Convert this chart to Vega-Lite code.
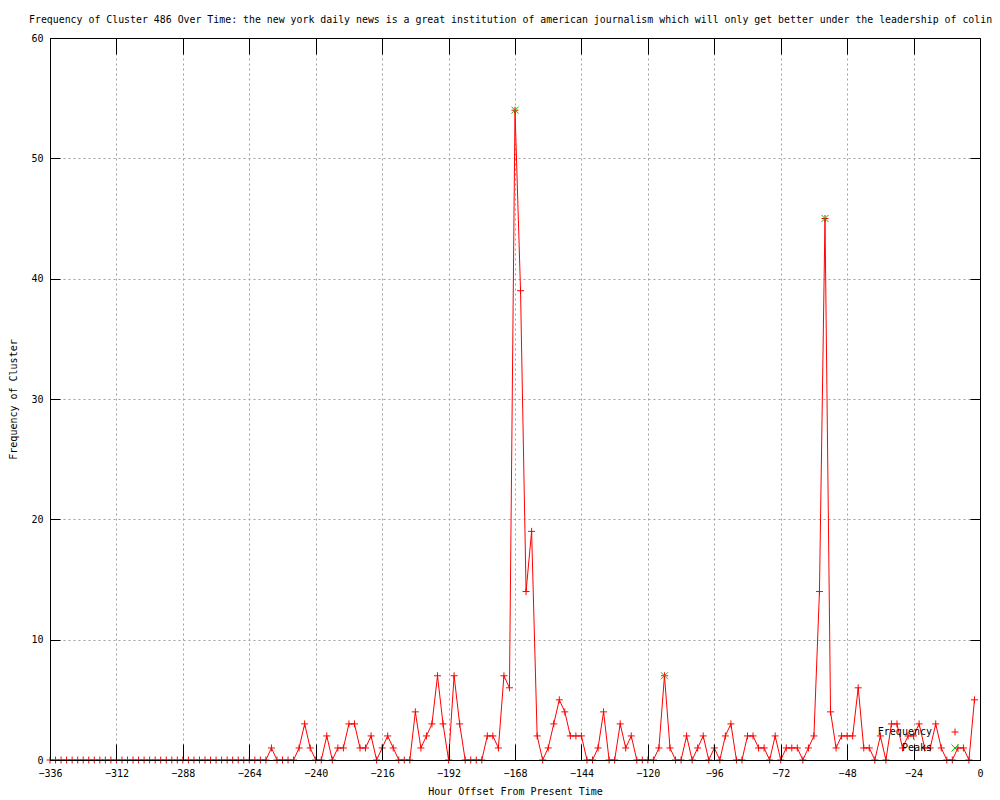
{
  "$schema": "https://vega.github.io/schema/vega-lite/v6.json",
  "width": 930,
  "height": 722,
  "autosize": {"type": "none"},
  "padding": {"left": 50, "top": 38, "right": 20, "bottom": 40},
  "background": "white",
  "config": {
    "view": {"stroke": "black", "strokeWidth": 1},
    "axis": {
      "labelFont": "DejaVu Sans Mono",
      "labelFontSize": 10,
      "labelColor": "black",
      "titleFont": "DejaVu Sans Mono",
      "titleFontSize": 10,
      "titleFontWeight": "normal",
      "titleColor": "black",
      "tickColor": "black",
      "tickWidth": 1,
      "domainColor": "black",
      "domainWidth": 1,
      "gridColor": "#a0a0a0",
      "gridDash": [2, 3],
      "gridWidth": 1,
      "gridOpacity": 1
    }
  },
  "title": {
    "text": "Frequency of Cluster 486 Over Time: the new york daily news is a great institution of american journalism which will only get better under the leadership of colin",
    "anchor": "start",
    "frame": "group",
    "dx": -21,
    "offset": 8,
    "font": "DejaVu Sans Mono",
    "fontSize": 9.9,
    "fontWeight": "normal",
    "color": "black"
  },
  "datasets": {
    "freq": [
      {"h": -336, "f": 0}, {"h": -334, "f": 0}, {"h": -332, "f": 0}, {"h": -330, "f": 0}, {"h": -328, "f": 0},
      {"h": -326, "f": 0}, {"h": -324, "f": 0}, {"h": -322, "f": 0}, {"h": -320, "f": 0}, {"h": -318, "f": 0},
      {"h": -316, "f": 0}, {"h": -314, "f": 0}, {"h": -312, "f": 0}, {"h": -310, "f": 0}, {"h": -308, "f": 0},
      {"h": -306, "f": 0}, {"h": -304, "f": 0}, {"h": -302, "f": 0}, {"h": -300, "f": 0}, {"h": -298, "f": 0},
      {"h": -296, "f": 0}, {"h": -294, "f": 0}, {"h": -292, "f": 0}, {"h": -290, "f": 0}, {"h": -288, "f": 0},
      {"h": -286, "f": 0}, {"h": -284, "f": 0}, {"h": -282, "f": 0}, {"h": -280, "f": 0}, {"h": -278, "f": 0},
      {"h": -276, "f": 0}, {"h": -274, "f": 0}, {"h": -272, "f": 0}, {"h": -270, "f": 0}, {"h": -268, "f": 0},
      {"h": -266, "f": 0}, {"h": -264, "f": 0}, {"h": -262, "f": 0}, {"h": -260, "f": 0}, {"h": -258, "f": 0},
      {"h": -256, "f": 1}, {"h": -254, "f": 0}, {"h": -252, "f": 0}, {"h": -250, "f": 0}, {"h": -248, "f": 0},
      {"h": -246, "f": 1}, {"h": -244, "f": 3}, {"h": -242, "f": 1}, {"h": -240, "f": 0}, {"h": -238, "f": 0},
      {"h": -236, "f": 2}, {"h": -234, "f": 0}, {"h": -232, "f": 1}, {"h": -230, "f": 1}, {"h": -228, "f": 3},
      {"h": -226, "f": 3}, {"h": -224, "f": 1}, {"h": -222, "f": 1}, {"h": -220, "f": 2}, {"h": -218, "f": 0},
      {"h": -216, "f": 1}, {"h": -214, "f": 2}, {"h": -212, "f": 1}, {"h": -210, "f": 0}, {"h": -208, "f": 0},
      {"h": -206, "f": 0}, {"h": -204, "f": 4}, {"h": -202, "f": 1}, {"h": -200, "f": 2}, {"h": -198, "f": 3},
      {"h": -196, "f": 7}, {"h": -194, "f": 3}, {"h": -192, "f": 0}, {"h": -190, "f": 7}, {"h": -188, "f": 3},
      {"h": -186, "f": 0}, {"h": -184, "f": 0}, {"h": -182, "f": 0}, {"h": -180, "f": 0}, {"h": -178, "f": 2},
      {"h": -176, "f": 2}, {"h": -174, "f": 1}, {"h": -172, "f": 7}, {"h": -170, "f": 6}, {"h": -168, "f": 54},
      {"h": -166, "f": 39}, {"h": -164, "f": 14}, {"h": -162, "f": 19}, {"h": -160, "f": 2}, {"h": -158, "f": 0},
      {"h": -156, "f": 1}, {"h": -154, "f": 3}, {"h": -152, "f": 5}, {"h": -150, "f": 4}, {"h": -148, "f": 2},
      {"h": -146, "f": 2}, {"h": -144, "f": 2}, {"h": -142, "f": 0}, {"h": -140, "f": 0}, {"h": -138, "f": 1},
      {"h": -136, "f": 4}, {"h": -134, "f": 0}, {"h": -132, "f": 0}, {"h": -130, "f": 3}, {"h": -128, "f": 1},
      {"h": -126, "f": 2}, {"h": -124, "f": 0}, {"h": -122, "f": 0}, {"h": -120, "f": 0}, {"h": -118, "f": 0},
      {"h": -116, "f": 1}, {"h": -114, "f": 7}, {"h": -112, "f": 1}, {"h": -110, "f": 0}, {"h": -108, "f": 0},
      {"h": -106, "f": 2}, {"h": -104, "f": 0}, {"h": -102, "f": 1}, {"h": -100, "f": 2}, {"h": -98, "f": 0},
      {"h": -96, "f": 1}, {"h": -94, "f": 0}, {"h": -92, "f": 2}, {"h": -90, "f": 3}, {"h": -88, "f": 0},
      {"h": -86, "f": 0}, {"h": -84, "f": 2}, {"h": -82, "f": 2}, {"h": -80, "f": 1}, {"h": -78, "f": 1},
      {"h": -76, "f": 0}, {"h": -74, "f": 2}, {"h": -72, "f": 0}, {"h": -70, "f": 1}, {"h": -68, "f": 1},
      {"h": -66, "f": 1}, {"h": -64, "f": 0}, {"h": -62, "f": 1}, {"h": -60, "f": 2}, {"h": -58, "f": 14},
      {"h": -56, "f": 45}, {"h": -54, "f": 4}, {"h": -52, "f": 1}, {"h": -50, "f": 2}, {"h": -48, "f": 2},
      {"h": -46, "f": 2}, {"h": -44, "f": 6}, {"h": -42, "f": 1}, {"h": -40, "f": 1}, {"h": -38, "f": 0},
      {"h": -36, "f": 2}, {"h": -34, "f": 0}, {"h": -32, "f": 3}, {"h": -30, "f": 3}, {"h": -28, "f": 1},
      {"h": -26, "f": 2}, {"h": -24, "f": 2}, {"h": -22, "f": 3}, {"h": -20, "f": 1}, {"h": -18, "f": 1},
      {"h": -16, "f": 3}, {"h": -14, "f": 1}, {"h": -12, "f": 0}, {"h": -10, "f": 0}, {"h": -8, "f": 1},
      {"h": -6, "f": 1}, {"h": -4, "f": 0}, {"h": -2, "f": 5}
    ],
    "peaks": [
      {"h": -168, "f": 54}, {"h": -114, "f": 7}, {"h": -56, "f": 45}
    ]
  },
  "layer": [
    {
      "data": {"name": "freq"},
      "mark": {"type": "line", "color": "#ff0000", "strokeWidth": 1},
      "encoding": {
        "x": {
          "field": "h", "type": "quantitative",
          "scale": {"domain": [-336, 0], "nice": false, "zero": false},
          "axis": {
            "orient": "bottom", "zindex": 1,
            "values": [-336, -312, -288, -264, -240, -216, -192, -168, -144, -120, -96, -72, -48, -24, 0],
            "grid": false, "domain": true, "ticks": true, "tickSize": -16,
            "labelPadding": 24, "labelFlush": false, "labelOverlap": false,
            "title": "Hour Offset From Present Time", "titlePadding": 8
          }
        },
        "y": {
          "field": "f", "type": "quantitative",
          "scale": {"domain": [0, 60], "nice": false, "zero": true},
          "axis": {
            "orient": "left", "zindex": 1,
            "values": [0, 10, 20, 30, 40, 50, 60],
            "grid": false, "domain": true, "ticks": true, "tickSize": -10,
            "labelPadding": 17, "labelFlush": false, "labelOverlap": false,
            "title": "Frequency of Cluster", "titlePadding": 12
          }
        }
      }
    },
    {
      "data": {"name": "freq"},
      "mark": {"type": "point", "filled": false, "strokeWidth": 1, "size": 49, "opacity": 1},
      "encoding": {
        "x": {
          "field": "h", "type": "quantitative",
          "axis": {
            "orient": "top", "zindex": 0,
            "values": [-312, -288, -264, -240, -216, -192, -168, -144, -120, -96, -72, -48, -24],
            "grid": true, "domain": true, "ticks": true, "tickSize": -16,
            "labels": false, "title": null
          }
        },
        "y": {
          "field": "f", "type": "quantitative",
          "axis": {
            "orient": "right", "zindex": 0,
            "values": [10, 20, 30, 40, 50],
            "grid": true, "domain": true, "ticks": true, "tickSize": -10,
            "labels": false, "title": null
          }
        },
        "color": {
          "datum": "Frequency", "type": "nominal",
          "scale": {"domain": ["Frequency", "Peaks"], "range": ["#ff0000", "#00c000"]},
          "legend": {
            "orient": "none", "legendX": 900, "legendY": 689,
            "title": null, "padding": 0, "rowPadding": 4,
            "labelFont": "DejaVu Sans Mono", "labelFontSize": 10, "labelColor": "black",
            "labelAlign": "right", "labelOffset": -28,
            "symbolSize": 49, "symbolStrokeWidth": 1,
            "encode": {
              "symbols": {
                "update": {
                  "shape": {"signal": "datum.label === 'Frequency' ? 'M-4.6,0L4.6,0M0,-1L0,1' : 'M-1,-1L1,1M-1,1L1,-1'"}
                }
              }
            }
          }
        },
        "shape": {
          "datum": "Frequency", "type": "nominal",
          "scale": {"domain": ["Frequency", "Peaks"], "range": ["M-1,0L1,0M0,-1L0,1", "M-1,-1L1,1M-1,1L1,-1"]}
        }
      }
    },
    {
      "data": {"name": "peaks"},
      "mark": {"type": "point", "filled": false, "strokeWidth": 1, "size": 49, "opacity": 1},
      "encoding": {
        "x": {"field": "h", "type": "quantitative", "axis": null},
        "y": {"field": "f", "type": "quantitative", "axis": null},
        "color": {"datum": "Peaks", "type": "nominal"},
        "shape": {"datum": "Peaks", "type": "nominal"}
      }
    }
  ],
  "resolve": {"axis": {"x": "independent", "y": "independent"}}
}
